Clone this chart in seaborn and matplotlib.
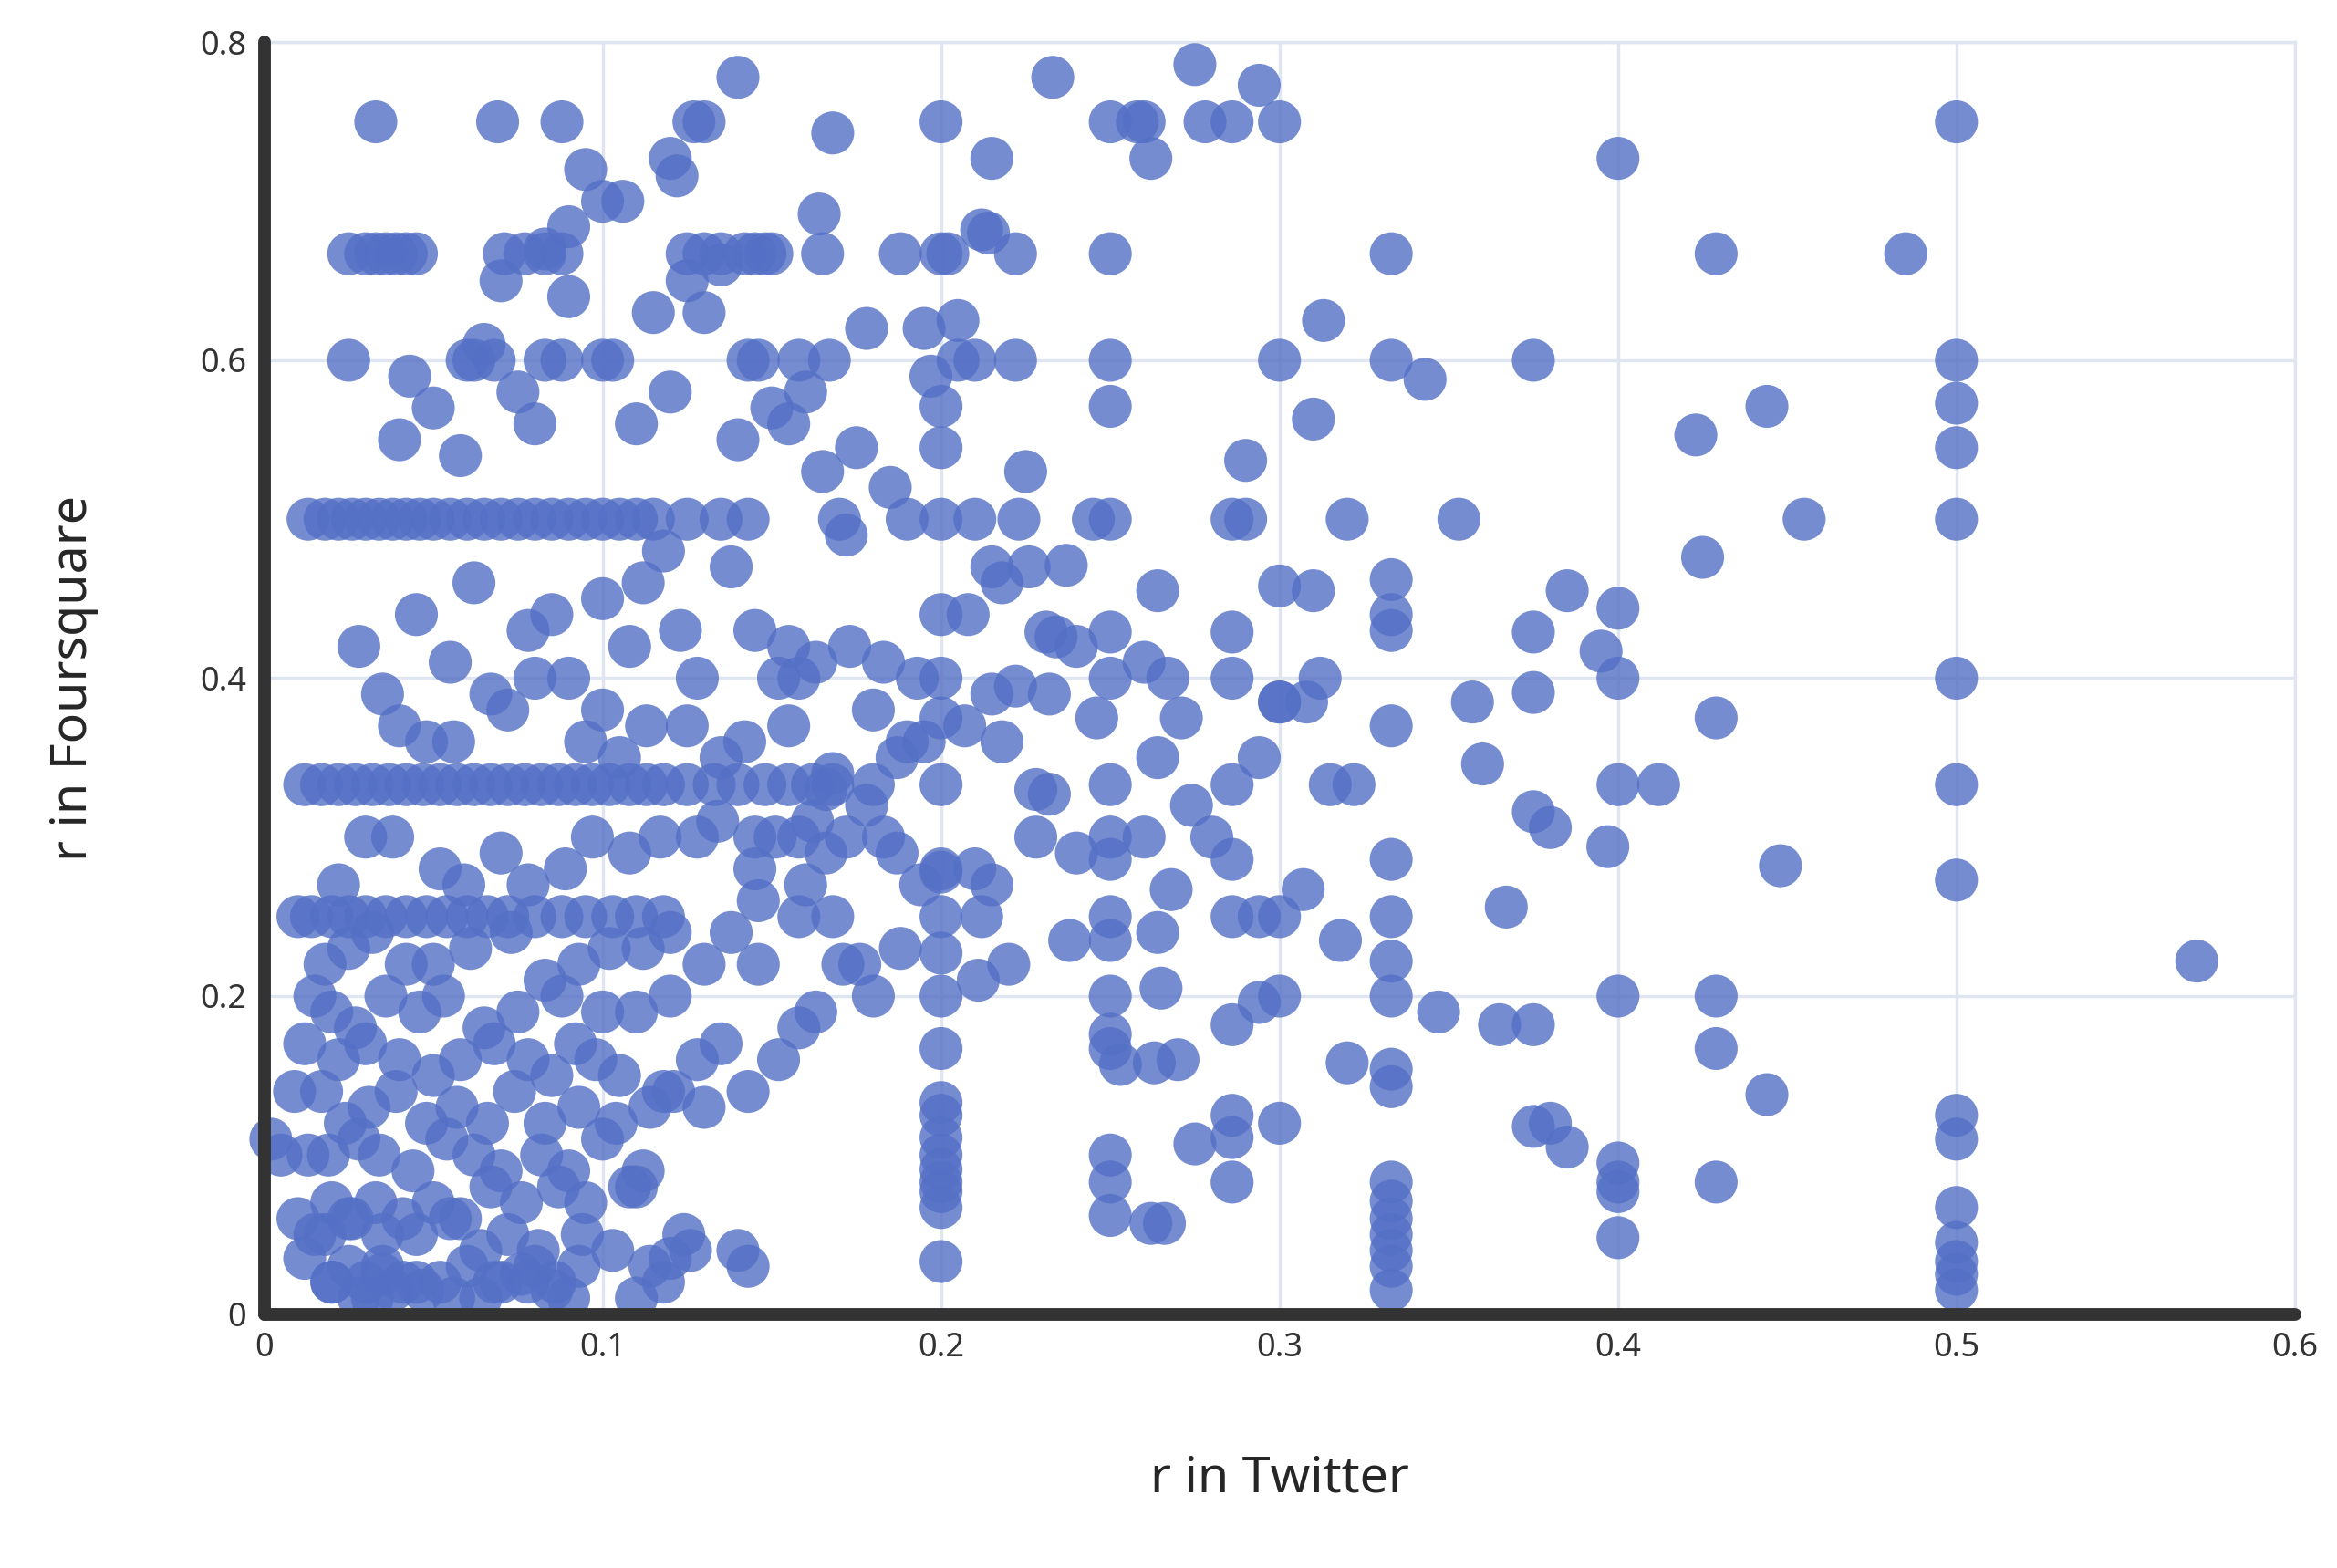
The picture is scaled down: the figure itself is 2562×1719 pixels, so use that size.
import matplotlib
matplotlib.use("Agg")
import matplotlib.pyplot as plt
import seaborn as sns
import pandas as pd

# ---- data ----
col_x = [0.5]*15 + [0.333]*19 + [0.4]*9 + [0.2]*22 + [0.25]*18 + [0.3]*7 + [0.286]*10 + [0.375]*6 + [0.429]*5
col_y = [0.75,0.6,0.573,0.545,0.5,0.4,0.333,0.273,0.125,0.11,0.067,0.045,0.033,0.025,0.015,
         0.667,0.6,0.462,0.44,0.43,0.37,0.286,0.25,0.222,0.2,0.154,0.143,0.083,0.071,0.06,0.05,0.04,0.03,0.015,
         0.727,0.444,0.4,0.333,0.2,0.095,0.083,0.077,0.048,
         0.75,0.667,0.5,0.4,0.333,0.25,0.2,0.167,0.133,0.125,0.111,0.1,0.091,0.083,0.077,0.067,0.033,0.545,0.571,0.375,0.278,0.227,
         0.75,0.667,0.6,0.571,0.5,0.429,0.4,0.333,0.3,0.286,0.25,0.2,0.167,0.1,0.083,0.062,0.235,0.176,
         0.75,0.6,0.458,0.385,0.25,0.2,0.12,
         0.5,0.429,0.4,0.333,0.286,0.25,0.182,0.125,0.111,0.083,
         0.6,0.429,0.391,0.316,0.182,0.118,
         0.667,0.375,0.2,0.167,0.083]

band_x = [0.013,0.018,0.022,0.026,0.03,0.034,0.038,0.042,0.046,0.05,0.055,0.06,0.065,0.07,0.075,0.08,0.085,0.09,0.095,0.1,0.105,0.11,0.115,0.125,0.135,0.143,
          0.012,0.017,0.022,0.027,0.032,0.037,0.042,0.047,0.052,0.057,0.062,0.067,0.072,0.077,0.082,0.087,0.092,0.097,0.102,0.108,0.113,0.118,0.125,0.133,0.14,0.148,0.155,0.162,0.168,0.18,
          0.01,0.014,0.02,0.025,0.03,0.036,0.042,0.048,0.054,0.06,0.066,0.072,0.08,0.088,0.095,0.103,0.11,0.118,0.125,0.135,0.142,0.15,
          0.025,0.03,0.033,0.036,0.039,0.042,0.045,0.071,0.077,0.083,0.088,0.13,0.145,0.148,0.167,0.205,0.21,0.222,
          0.025,0.06,0.062,0.083,0.088,0.1,0.103,0.143,0.15,0.18,0.19,0.2]
band_y = [0.5]*26 + [0.333]*30 + [0.25]*18 + [0.667]*18 + [0.6]*12

misc_x = [0.571,0.485,0.455,0.444,0.448,0.444,0.423,0.425,0.412,0.395,0.397,0.385,0.38,0.385,0.38,0.367,0.365,0.36,0.357,0.353,0.347,0.343,0.32,0.318,0.32,0.313,0.31,0.31,0.312,0.308,0.315,0.322,0.307,0.294,0.3,0.294,0.29,0.29,0.294,0.294,0.275,0.278,0.286,0.271,0.267,0.268,0.274,0.275,0.28,0.264,0.26,0.262,0.258,0.264,0.26,0.26,0.265,0.264,0.263,0.27,0.266,0.262,0.233,0.237,0.231,0.234,0.24,0.245,0.246,0.232,0.232,0.24,0.238,0.253,
          0.14,0.13,0.12,0.09,0.033,0.069,0.088,0.1,0.122,0.127,0.168,0.164,0.215,0.202,0.212,0.188,0.165,0.178,0.195,0.205,0.222,0.214,0.225,0.185,0.175,0.155,0.16,0.197,0.17,0.146,0.158,0.165,0.19,0.172,0.21,0.218,0.226,0.223,0.208,0.215,0.2,0.193,0.183,0.173,0.163,0.18,0.19,0.215,0.222,0.218,0.228,0.207,0.195,0.178,0.168,0.158,0.187,0.183,0.21,0.172,0.166,0.151,0.145,0.158,0.146,0.2,0.194,0.228,0.187,0.168,0.176,0.188,0.171,0.215,0.212,0.22,0.211,0.163,0.158,0.152,0.18,
          0.106,0.095,0.115,0.125,0.135,0.068,0.07,0.075,0.08,0.083,0.09,0.11,0.12,0.13,0.14,0.15,0.065,0.058,0.05,0.043,0.04,0.1,0.108,0.112,0.118,0.123,0.138,0.128,0.145,0.155,0.152,0.1,0.09,0.085,0.078,0.062,0.055,0.045,0.035,0.028,0.04,0.048,0.056,0.067,0.072,0.08,0.095,0.105,0.113,0.125,0.135,0.142,0.155,0.162,0.166,0.16,0.158,0.145,0.134,0.128,0.117,0.108,0.097,0.089,0.078,0.07,0.059,0.052,0.038,0.03,0.022,0.018,0.025,0.032,0.042,0.05,0.061,0.073,0.083,0.093,0.102,0.112,0.12,0.13,0.138,0.146,0.12,0.11,0.1,0.088,0.075,0.065,0.053,0.046,0.036,0.027,0.02,0.015,0.012,0.022,0.03,0.04,0.05,0.058,0.068,0.078,0.085,0.092,0.098,0.105,0.118,0.128,0.135,0.143,0.13,0.121,0.114,0.104,0.093,0.083,0.074,0.066,0.057,0.048,0.039,0.031,0.024,0.017,0.009,0.005,0.002,0.013,0.019,0.028,0.034,0.044,0.054,0.062,0.07,0.082,0.09,0.1,0.11,0.112,0.108,0.095,0.087,0.076,0.067,0.058,0.05,0.041,0.033,0.026,0.02,0.015,0.01,0.018,0.025,0.035,0.045,0.055,0.064,0.072,0.081,0.094,0.103,0.114,0.124,0.14,0.143,0.126,0.12,0.012,0.032,0.028,0.035,0.02,0.041,0.045,0.052,0.06,0.068,0.076,0.08,0.086,0.093,0.07,0.064,0.056,0.047,0.038,0.03,0.02,0.025,0.035,0.078,0.085,0.09,0.11,0.118,0.127,0.115]
misc_y = [0.222,0.667,0.5,0.571,0.282,0.138,0.553,0.476,0.333,0.417,0.294,0.455,0.306,0.105,0.12,0.256,0.182,0.346,0.385,0.5,0.19,0.588,0.5,0.235,0.158,0.625,0.563,0.455,0.4,0.385,0.333,0.333,0.267,0.773,0.385,0.35,0.5,0.537,0.25,0.196,0.786,0.75,0.75,0.375,0.4,0.267,0.32,0.107,0.3,0.455,0.75,0.727,0.75,0.35,0.41,0.3,0.205,0.24,0.158,0.16,0.057,0.057,0.778,0.471,0.429,0.426,0.42,0.5,0.375,0.39,0.327,0.29,0.235,0.157,
          0.778,0.75,0.727,0.684,0.75,0.75,0.75,0.7,0.716,0.75,0.743,0.692,0.727,0.667,0.682,0.667,0.667,0.62,0.62,0.625,0.667,0.68,0.53,0.52,0.545,0.56,0.58,0.59,0.5,0.6,0.6,0.53,0.5,0.49,0.5,0.46,0.47,0.5,0.44,0.47,0.44,0.4,0.41,0.42,0.41,0.38,0.36,0.39,0.395,0.36,0.33,0.37,0.36,0.32,0.34,0.4,0.35,0.3,0.28,0.3,0.33,0.3,0.28,0.25,0.26,0.28,0.27,0.3,0.29,0.25,0.22,0.23,0.22,0.27,0.25,0.22,0.21,0.19,0.18,0.16,0.2,
          0.7,0.72,0.63,0.65,0.66,0.6,0.65,0.58,0.56,0.67,0.64,0.56,0.58,0.63,0.55,0.57,0.61,0.54,0.57,0.59,0.55,0.45,0.42,0.46,0.48,0.43,0.47,0.4,0.43,0.42,0.4,0.38,0.4,0.44,0.43,0.46,0.41,0.44,0.39,0.42,0.37,0.36,0.36,0.39,0.38,0.4,0.36,0.35,0.37,0.37,0.35,0.36,0.37,0.31,0.29,0.27,0.3,0.3,0.31,0.3,0.3,0.29,0.3,0.28,0.27,0.29,0.27,0.28,0.3,0.3,0.27,0.22,0.23,0.24,0.22,0.22,0.23,0.24,0.21,0.22,0.23,0.23,0.24,0.22,0.24,0.22,0.2,0.19,0.19,0.2,0.19,0.18,0.2,0.19,0.2,0.18,0.19,0.2,0.17,0.16,0.17,0.16,0.15,0.16,0.17,0.16,0.15,0.17,0.16,0.15,0.14,0.16,0.17,0.14,0.13,0.14,0.13,0.12,0.13,0.12,0.14,0.12,0.13,0.12,0.14,0.13,0.12,0.14,0.14,0.1,0.11,0.1,0.1,0.11,0.1,0.09,0.11,0.1,0.09,0.1,0.09,0.11,0.08,0.09,0.08,0.07,0.08,0.07,0.08,0.06,0.07,0.06,0.07,0.06,0.07,0.05,0.06,0.05,0.06,0.05,0.05,0.06,0.04,0.05,0.04,0.05,0.04,0.03,0.05,0.04,0.03,0.04,0.035,0.035,0.01,0.01,0.03,0.02,0.02,0.02,0.02,0.03,0.02,0.025,0.03,0.02,0.03,0.02,0.01,0.01,0.015,0.015,0.02,0.02,0.03,0.025,0.02,0.015,0.01,0.01,0.02]

x_ticks = [0, 0.1, 0.2, 0.3, 0.4, 0.5, 0.6]
y_ticks = [0, 0.2, 0.4, 0.6, 0.8]
x_tick_labels = ["0", "0.1", "0.2", "0.3", "0.4", "0.5", "0.6"]
y_tick_labels = ["0", "0.2", "0.4", "0.6", "0.8"]

xs, ys = [], []
for a, b in [(col_x, col_y), (band_x, band_y), (misc_x, misc_y)]:
    n = min(len(a), len(b))
    xs += list(a[:n])
    ys += list(b[:n])
df = pd.DataFrame({"x": xs, "y": ys})

sns.set_style("white")
plt.rcParams["font.family"] = ["Noto Sans", "DejaVu Sans"]
fig = plt.figure(figsize=(25.62, 17.19), dpi=100)
ax = fig.add_axes([0.113, 0.162, 0.869, 0.811])
sns.scatterplot(data=df, x="x", y="y", ax=ax, s=1150, color="#5470c6",
                alpha=0.8, edgecolor="none", zorder=3, clip_on=False)
ax.set_xlim(0, 0.6)
ax.set_ylim(0, 0.8)
ax.set_xticks(x_ticks)
ax.set_xticklabels(x_tick_labels, fontsize=26, color="#333333")
ax.set_yticks(y_ticks)
ax.set_yticklabels(y_tick_labels, fontsize=26, color="#333333", fontweight="bold")
ax.grid(True, color="#e0e6f1", linewidth=2.5, zorder=0)
for s in ["top", "right"]:
    ax.spines[s].set_color("#e0e6f1")
    ax.spines[s].set_linewidth(2.5)
for s in ["left", "bottom"]:
    ax.spines[s].set_color("#333333")
    ax.spines[s].set_linewidth(10)
    ax.spines[s].set_capstyle("round")
    ax.spines[s].set_zorder(4)
ax.tick_params(axis="both", length=0, pad=14)
ax.set_xlabel("r in Twitter", fontsize=40, labelpad=70)
ax.set_ylabel("r in Foursquare", fontsize=40, labelpad=80)
fig.savefig("out.png", dpi=100)
